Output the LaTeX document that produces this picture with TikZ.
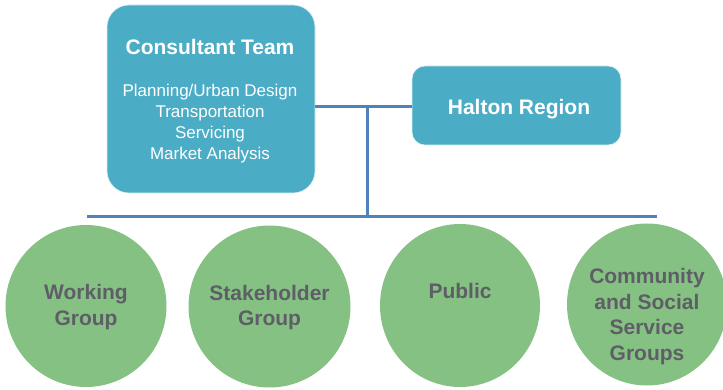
\documentclass[tikz,border=0pt]{standalone}
\usepackage{fontspec}
\setmainfont{Liberation Sans}
\usepackage{xcolor}
\usepackage{tikz}
\usetikzlibrary{shapes.geometric}
\usetikzlibrary{positioning}

\definecolor{boxblue}{HTML}{4BACC6}
\definecolor{lineblue}{HTML}{4F81BD}
\definecolor{groupgreen}{HTML}{86C184}
\definecolor{textgrey}{HTML}{5E5E66}

\tikzset{
    teambox/.style={draw=white!80!boxblue, line width=0.6pt, fill=boxblue, rounded corners=#1, inner sep=0pt},
    group/.style={fill=groupgreen, ellipse, inner sep=0pt},
    grouptext/.style={text=textgrey, font=\bfseries\fontsize{21}{25.5}\selectfont, align=center},
    headtext/.style={text=white, font=\bfseries\fontsize{21}{25}\selectfont, anchor=base},
    listtext/.style={text=white, font=\fontsize{17}{21}\selectfont, anchor=base},
    link/.style={draw=lineblue, line width=3pt}
}

\begin{document}
\begin{tikzpicture}[x=1pt, y=-1pt]
            \useasboundingbox (0,0) rectangle (723,390);

            \node[teambox=22pt, minimum width=208pt, minimum height=188pt] (ct) at (211,99) {};
            \node[teambox=13pt, minimum width=209pt, minimum height=79pt] (hr) at (516.5,105.5) {};

            \node[headtext] (cttitle) at (210,55) {Consultant Team};
            \node[listtext] (ctl1) at (210,97) {Planning/Urban Design};
            \node[listtext] (ctl2) at (210,118) {Transportation};
            \node[listtext] (ctl3) at (210,139) {Servicing};
            \node[listtext] (ctl4) at (210,160) {Market Analysis};
            \node[headtext] (hrtitle) at (519,115) {Halton Region};

            \node[group, minimum width=161pt, minimum height=162pt] (wg) at (86,306) {};
            \node[group, minimum width=162pt, minimum height=162pt] (sg) at (269.5,306.5) {};
            \node[group, minimum width=160pt, minimum height=163pt] (pub) at (460,305.5) {};
            \node[group, minimum width=160pt, minimum height=162pt] (csg) at (647,304.5) {};

            \node[grouptext] (wgtext) at ([yshift=-1pt]wg) {Working\\Group};
            \node[grouptext] (sgtext) at ([yshift=-1pt]sg) {Stakeholder\\Group};
            \node[grouptext] (pubtext) at ([yshift=15pt]pub) {Public};
            \node[grouptext] (csgtext) at ([yshift=-12pt]csg) {Community\\and Social\\Service\\Groups};

            \coordinate (top) at (367,106.5);
            \coordinate (bus) at (367,217);
            \coordinate (busl) at (87,217);
            \coordinate (busr) at (657,217);

            \draw[link] (ct.east |- top) -- (hr.west |- top);
            \draw[link] (top) -- (bus);
            \draw[link] (busl) -- (busr);
        \end{tikzpicture}
\end{document}
